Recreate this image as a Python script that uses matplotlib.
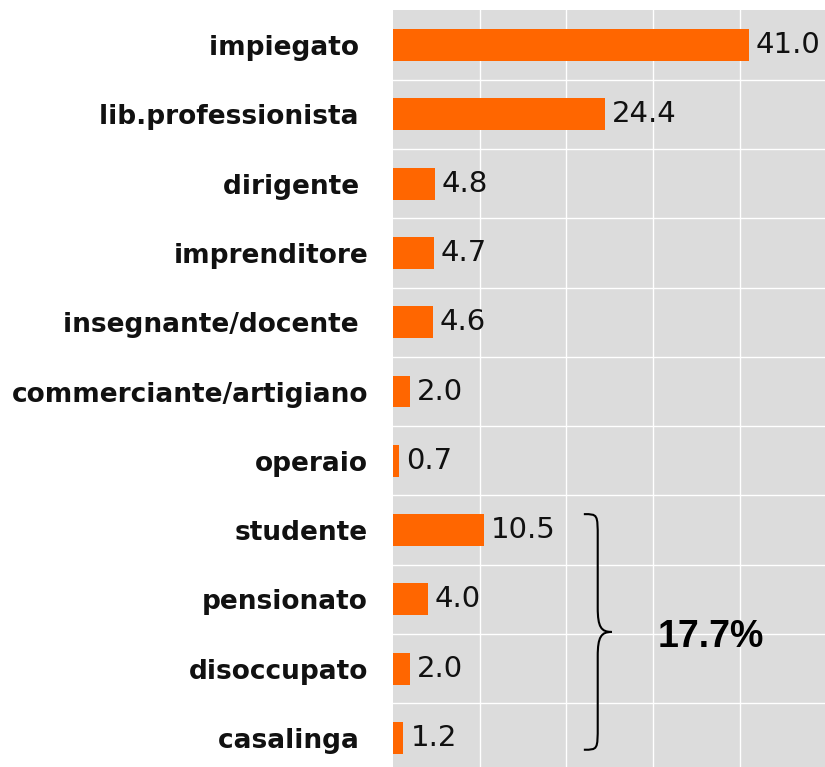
import matplotlib.pyplot as plt
from matplotlib.path import Path
from matplotlib.patches import PathPatch

categories = ["impiegato ", "lib.professionista ", "dirigente ", "imprenditore",
              "insegnante/docente ", "commerciante/artigiano", "operaio",
              "studente", "pensionato", "disoccupato", "casalinga "]
values = [41.0, 24.4, 4.8, 4.7, 4.6, 2.0, 0.7, 10.5, 4.0, 2.0, 1.2]
group_start = 7  # non-working categories grouped by the brace
group_label = "17.7%"

fig = plt.figure(figsize=(8.25, 7.67), dpi=100)
ax = fig.add_axes([393 / 825, 1 - 772.6 / 767, 1 - 393 / 825, (772.6 - 10.4) / 767])
ax.set_facecolor("#dcdcdc")

pos = list(range(len(categories)))
ax.barh(pos, values, height=0.46, color="#ff6600", zorder=3)

for p, v in zip(pos, values):
    ax.annotate(f"{v:.1f}", (v, p), xytext=(5, 0), textcoords="offset points",
                va="center", ha="left", fontsize=21, color="#111111")

ax.set_xlim(0, 49.8)
ax.set_ylim(len(categories) - 0.5, -0.5)
ax.set_xticks([10, 20, 30, 40])
ax.set_xticklabels([])
ax.set_yticks(pos)
ax.set_yticklabels(categories, fontsize=19, fontweight="bold", color="#111111")
ax.set_yticks([p + 0.5 for p in pos[:-1]], minor=True)
ax.tick_params(axis="both", which="both", length=0)
ax.tick_params(axis="y", pad=18)
ax.grid(True, axis="x", color="white", lw=1.0, zorder=1)
ax.grid(True, axis="y", which="minor", color="white", lw=1.0, zorder=1)
for s in ax.spines.values():
    s.set_visible(False)

# curly brace for the grouped categories
x0, xm, xt = 22.0, 23.6, 25.2
yt = group_start - 0.23
yb = len(categories) - 1 + 0.17
ytip = (yt + yb) / 2
r = 0.35
verts = [(x0, yt), (xm, yt), (xm, yt), (xm, yt + r),
         (xm, ytip - r),
         (xm, ytip - 0.07), (xm + 0.4, ytip), (xt, ytip),
         (xm + 0.4, ytip), (xm, ytip + 0.07), (xm, ytip + r),
         (xm, yb - r),
         (xm, yb), (xm, yb), (x0, yb)]
codes = [Path.MOVETO, Path.CURVE4, Path.CURVE4, Path.CURVE4,
         Path.LINETO,
         Path.CURVE4, Path.CURVE4, Path.CURVE4,
         Path.CURVE4, Path.CURVE4, Path.CURVE4,
         Path.LINETO,
         Path.CURVE4, Path.CURVE4, Path.CURVE4]
ax.add_patch(PathPatch(Path(verts, codes), fill=False, lw=1.5, color="black", zorder=4))
ax.text(36.6, ytip + 0.08, group_label, ha="center", va="center", fontsize=27,
        fontweight="bold", family="Liberation Sans", color="black", zorder=4)

fig.savefig("out.png", dpi=100)
